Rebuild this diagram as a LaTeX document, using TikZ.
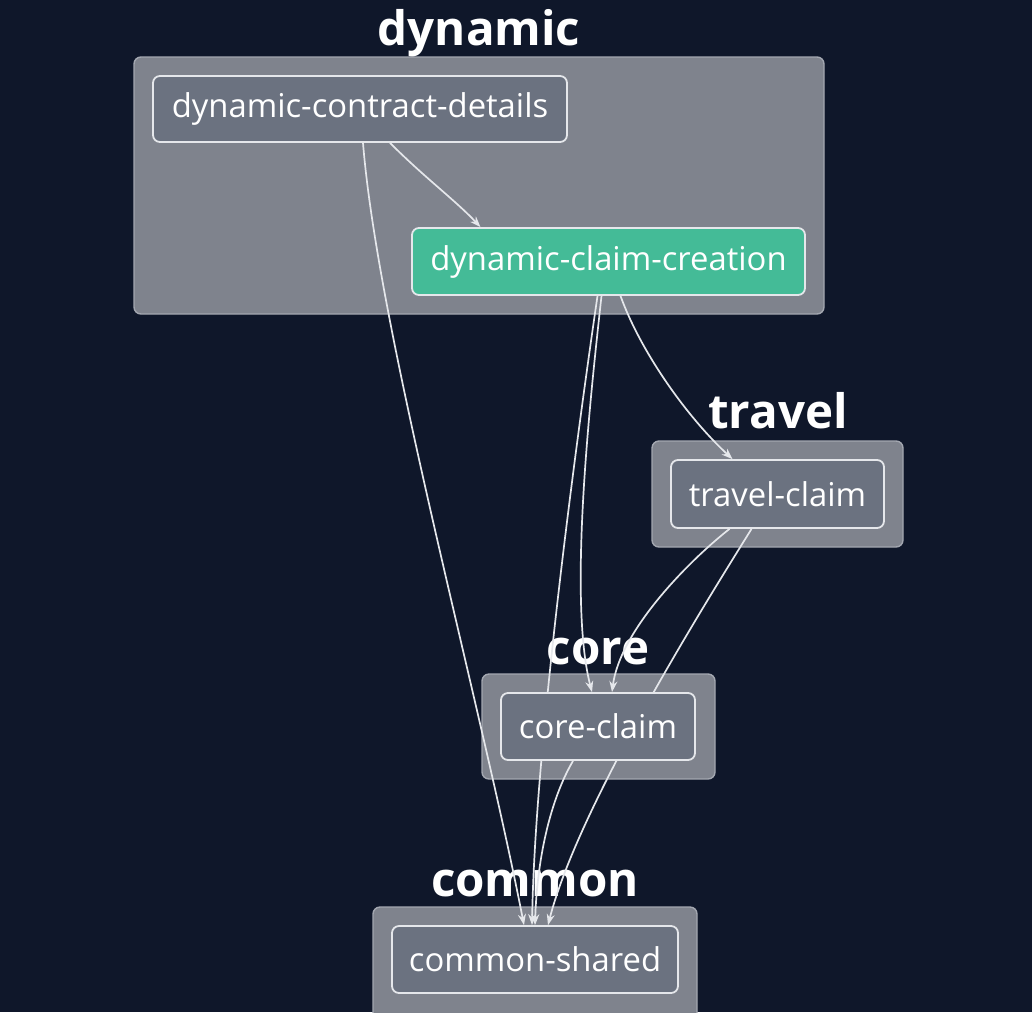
\documentclass[tikz,border=0pt]{standalone}
\usepackage{fontspec}
\setmainfont{Open Sans}
\usetikzlibrary{arrows.meta}
\definecolor{bgc}{HTML}{0F172A}
\definecolor{clfill}{HTML}{7F838D}
\definecolor{cldraw}{HTML}{A3A7B0}
\definecolor{ndfill}{HTML}{6B7280}
\definecolor{nddraw}{HTML}{E5E7EB}
\definecolor{green}{HTML}{44BB97}
\definecolor{edgec}{HTML}{E5E7EB}
\pgfdeclarelayer{bg}
\pgfdeclarelayer{edges}
\pgfsetlayers{bg,edges,main}
\tikzset{
  cluster/.style={draw=cldraw, fill=clfill, line width=1.4pt, rounded corners=7pt, inner sep=0pt},
  ctitle/.style={text=white, font=\fontsize{47.5}{54}\selectfont\bfseries, inner sep=0pt, anchor=base},
  mod/.style={draw=nddraw, fill=ndfill, line width=1.8pt, rounded corners=7pt, text=white,
    font=\fontsize{32.8}{38}\selectfont, inner sep=0pt},
  hot/.style={mod, fill=green},
  dep/.style={draw=edgec, line width=1.7pt, -{Stealth[length=11pt,width=8pt]}},
}
\begin{document}
\begin{tikzpicture}[x=1pt,y=-1pt]
\useasboundingbox (0,0) rectangle (1032,1012);

% modules
\node[mod, minimum width=414pt, minimum height=66pt] (dcd) at (360,109) {dynamic-contract-details};
\node[hot, minimum width=393pt, minimum height=67pt] (dcc) at (608.5,261.5) {dynamic-claim-creation};
\node[mod, minimum width=213pt, minimum height=68pt] (tc) at (777.5,494) {travel-claim};
\node[mod, minimum width=194pt, minimum height=67pt] (cc) at (598,726.5) {core-claim};
\node[mod, minimum width=286pt, minimum height=67pt] (cs) at (535,959.5) {common-shared};

\begin{pgfonlayer}{bg}
\fill[bgc] (0,0) rectangle (1032,1012);
\node[cluster, minimum width=690pt, minimum height=257pt] (gdyn) at (479,185.5) {};
\node[cluster, minimum width=251pt, minimum height=106pt] (gtra) at (777.5,494) {};
\node[cluster, minimum width=233pt, minimum height=105pt] (gcor) at (598.5,726.5) {};
\node[cluster, minimum width=324pt, minimum height=112pt] (gcom) at (535,963) {};
\node[ctitle] (tdyn) at (479,45) {dynamic};
\node[ctitle] (ttra) at (778,428) {travel};
\node[ctitle] (tcor) at (598,664) {core};
\node[ctitle] (tcom) at (535,896) {common};
\end{pgfonlayer}

\begin{pgfonlayer}{edges}
\draw[dep] ([xshift=30pt]dcd.south) .. controls (425,178) and (455,200) .. ([xshift=-128pt]dcc.north);
\draw[dep] ([xshift=3pt]dcd.south) .. controls (378,330) and (480,700) .. ([xshift=-11pt]cs.north);
\draw[dep] ([xshift=12pt]dcc.south) .. controls (640,350) and (685,415) .. ([xshift=-45pt]tc.north);
\draw[dep] ([xshift=-7pt]dcc.south) .. controls (590,400) and (568,600) .. ([xshift=-6pt]cc.north);
\draw[dep] ([xshift=-11pt]dcc.south) .. controls (575,450) and (535,750) .. ([xshift=-3pt]cs.north);
\draw[dep] ([xshift=-48pt]tc.south) .. controls (690,560) and (620,630) .. ([xshift=14pt]cc.north);
\draw[dep] ([xshift=-26pt]tc.south) .. controls (720,580) and (580,800) .. ([xshift=13pt]cs.north);
\draw[dep] ([xshift=-25pt]cc.south) .. controls (550,800) and (537,860) .. ([xshift=0pt]cs.north);
\end{pgfonlayer}
\end{tikzpicture}
\end{document}
